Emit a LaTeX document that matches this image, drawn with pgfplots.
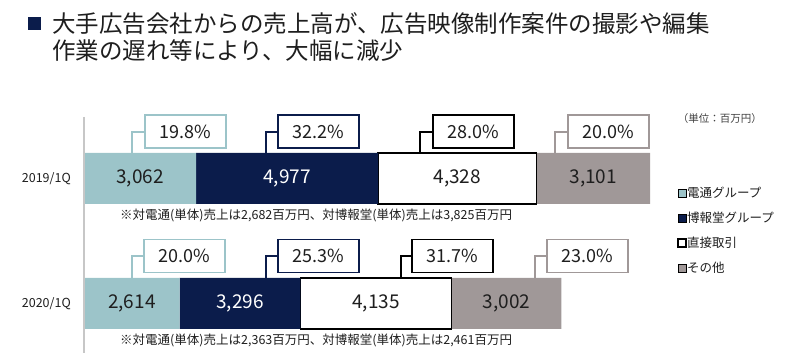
\documentclass[border=0pt]{standalone}
\usepackage{pgfplots}
\pgfplotsset{compat=1.18}
\usepackage{fontspec}
\setmainfont{Noto Sans CJK JP}
\definecolor{teal1}{HTML}{9CC4C9}
\definecolor{navy1}{HTML}{0B1C4B}
\definecolor{gray1}{HTML}{A09898}
\definecolor{txt}{HTML}{1E1E1E}
\pgfplotsset{
  base/.style={scale only axis, width=566pt, height=253pt,
    xmin=0, xmax=15468, ymin=-0.396, ymax=1.628,
    at={(0pt,0pt)}, anchor=south west, clip=false},
  lab/.style={only marks, mark=none, nodes near coords, point meta=explicit symbolic},
  pbox/.style={lab, every node near coord/.style={anchor=center, draw=#1, line width=1.5pt, fill=white,
      minimum width=81pt, minimum height=33pt, inner sep=0pt, text=txt, font=\fontsize{18}{20}\selectfont}},
  conn/.style={#1, line width=1.5pt, mark=none},
}
\begin{document}
\begin{tikzpicture}
\useasboundingbox (-84pt,0pt) rectangle (716pt,353pt);
\begin{axis}[base, xbar stacked, bar width=51pt,
  axis lines=left, axis line style={draw=none}, xtick=\empty,
  ytick={0,1}, yticklabels={2020/1Q,2019/1Q}, ytick style={draw=none}, major tick length=0pt,
  yticklabel style={inner sep=0pt, xshift=-13pt, text=txt, font=\fontsize{12.5}{14}\selectfont},
  legend style={at={(1.0477,0.658)}, anchor=north west, draw=none, fill=none, inner sep=0pt,
    row sep=12pt, font=\fontsize{12.5}{14}\selectfont,
    nodes={inner sep=0.5pt, text height=10pt, text depth=2pt, text=txt}},
  legend cell align=left,
  legend image code/.code={\draw[#1] (0pt,-4pt) rectangle (8pt,4pt);},
]
\draw[black!22, line width=1.3pt] (axis cs:0,1.492) -- (axis cs:0,-0.396);
\addplot[fill=teal1, draw=none] coordinates {(2614,0) (3062,1)};
\addplot[fill=navy1, draw=none] coordinates {(3296,0) (4977,1)};
\addplot[fill=white, draw=black, line width=1.5pt] coordinates {(4135,0) (4328,1)};
\addplot[fill=gray1, draw=none] coordinates {(3002,0) (3101,1)};
\legend{電通グループ,博報堂グループ,直接取引,その他}
\end{axis}
\begin{axis}[base, hide axis]
% connectors
\addplot[conn=teal1] coordinates {(1312,1.204) (1312,1.372) (2774,1.372)};
\addplot[conn=navy1] coordinates {(4974,1.204) (4974,1.372) (6409,1.372)};
\addplot[conn=black] coordinates {(9183,1.204) (9183,1.372) (10645,1.372)};
\addplot[conn=gray1] coordinates {(12872,1.204) (12872,1.372) (14334,1.372)};
\addplot[conn=teal1] coordinates {(1312,0.204) (1312,0.38) (2747,0.38)};
\addplot[conn=navy1] coordinates {(4974,0.204) (4974,0.38) (6409,0.38)};
\addplot[conn=black] coordinates {(8663,0.204) (8663,0.38) (10071,0.38)};
\addplot[conn=gray1] coordinates {(12325,0.204) (12325,0.38) (13760,0.38)};
% percentage boxes
\addplot[pbox=teal1] coordinates {(2774,1.376) [19.8\%] (2747,0.38) [20.0\%]};
\addplot[pbox=navy1] coordinates {(6409,1.376) [32.2\%] (6409,0.38) [25.3\%]};
\addplot[pbox=black] coordinates {(10645,1.376) [28.0\%] (10071,0.38) [31.7\%]};
\addplot[pbox=gray1] coordinates {(14334,1.376) [20.0\%] (13760,0.38) [23.0\%]};
% bar values
\addplot[lab, every node near coord/.style={anchor=center, text=txt, font=\fontsize{19}{21}\selectfont}]
  coordinates {(1531,1) [3{,}062] (10203,1) [4{,}328] (13917.5,1) [3{,}101]
               (1307,0) [2{,}614] (7977.5,0) [4{,}135] (11546,0) [3{,}002]};
\addplot[lab, every node near coord/.style={anchor=center, text=white, font=\fontsize{19}{21}\selectfont}]
  coordinates {(5550.5,1) [4{,}977] (4262,0) [3{,}296]};
% notes
\node[anchor=west, text=txt, font=\fontsize{12.5}{14}\selectfont, inner sep=0pt] at (axis cs:984,0.708)
  {※対電通(単体)売上は2,682百万円、対博報堂(単体)売上は3,825百万円};
\node[anchor=west, text=txt, font=\fontsize{12.5}{14}\selectfont, inner sep=0pt] at (axis cs:984,-0.292)
  {※対電通(単体)売上は2,363百万円、対博報堂(単体)売上は2,461百万円};
% unit
\node[anchor=west, text=txt!85, font=\fontsize{10.5}{12}\selectfont, inner sep=0pt] at (rel axis cs:1.049,0.925)
  {（単位：百万円）};
% title
\fill[navy1] (rel axis cs:-0.0989,1.328) rectangle (rel axis cs:-0.076,1.2767);
\node[anchor=base west, align=left, text=txt, inner sep=0pt, font=\fontsize{23.5}{27}\selectfont] at (rel axis cs:-0.0565,1.162)
  {大手広告会社からの売上高が、広告映像制作案件の撮影や編集\\作業の遅れ等により、大幅に減少};
\end{axis}
\end{tikzpicture}
\end{document}
